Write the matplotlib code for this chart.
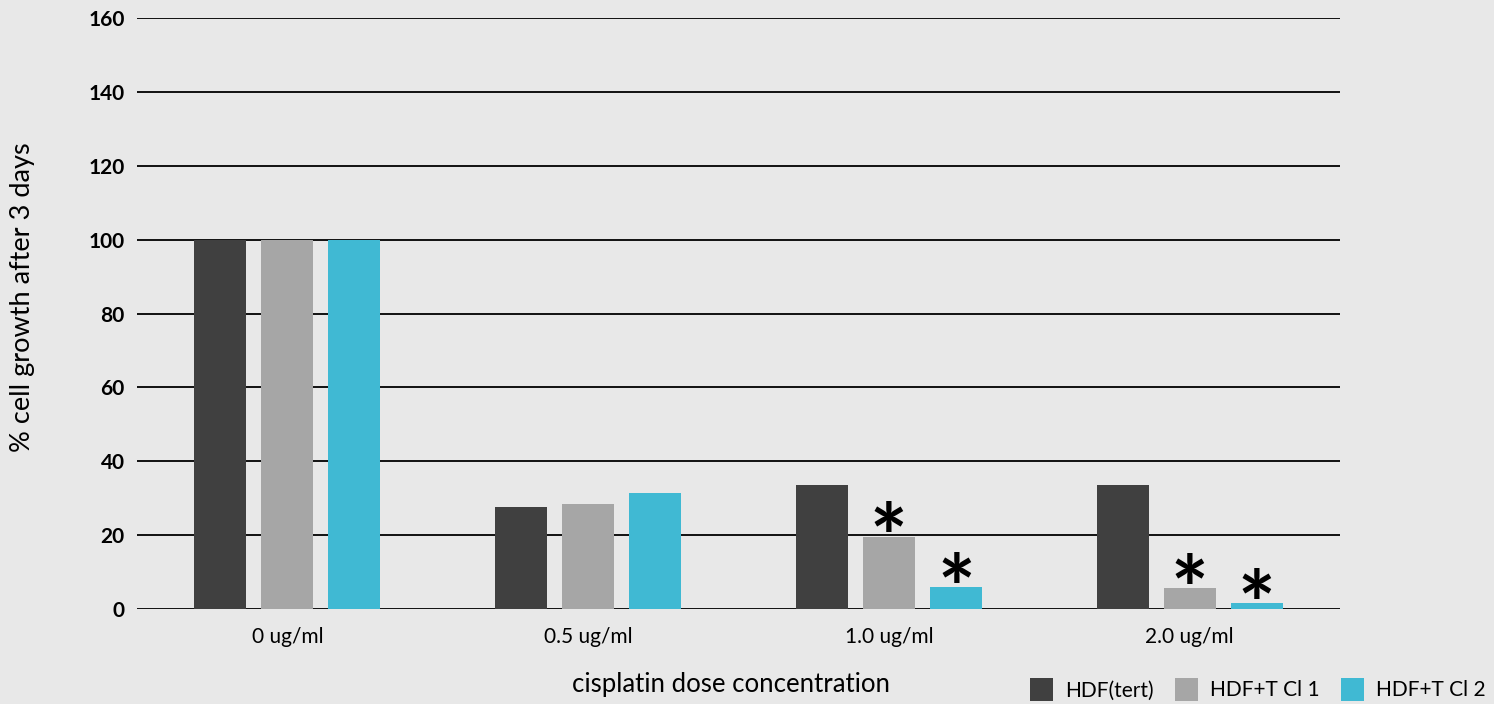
import numpy as np
import matplotlib
matplotlib.use("Agg")
from matplotlib import pyplot as plt

DOSES = ["0 ug/ml", "0.5 ug/ml", "1.0 ug/ml", "2.0 ug/ml"]
SERIES = ["HDF(tert)", "HDF+T Cl 1", "HDF+T Cl 2"]
HDF_TERT = [100, 27.7, 33.7, 33.7]
HDF_T_CL1 = [100, 28.3, 19.6, 5.7]
HDF_T_CL2 = [100, 31.5, 6.0, 1.6]
# significance markers per series (True = asterisk above bar)
SIG_CL1 = [False, False, True, True]
SIG_CL2 = [False, False, True, True]
Y_TICKS = [0, 20, 40, 60, 80, 100, 120, 140, 160]

COLORS = ["#404040", "#a6a6a6", "#40b9d3"]
BG = "#e8e8e8"

plt.rcParams.update({"font.family": ["Lato", "DejaVu Sans"]})

fig = plt.figure(figsize=(14.94, 7.04), dpi=100, facecolor=BG)
ax = fig.add_axes([0.0917, 0.1349, 0.8052, 0.8395], facecolor=BG)

x = np.arange(len(DOSES))
width = 0.173
step = 0.223
values = [HDF_TERT, HDF_T_CL1, HDF_T_CL2]
sigs = [None, SIG_CL1, SIG_CL2]
for i, (name, vals) in enumerate(zip(SERIES, values)):
    pos = x + (i - 1) * step
    ax.bar(pos, vals, width=width, color=COLORS[i], label=name, zorder=3)
    if sigs[i] is not None:
        for p, v, s in zip(pos, vals, sigs[i]):
            if s:
                # top of the asterisk glyph sits ~9 units above the bar
                ax.text(p, v + 9.0, "*", ha="center", va="top",
                        fontsize=64, fontweight="bold", zorder=4)

ax.set_xlim(-0.5, 3.5)
ax.set_ylim(0, 160)
ax.set_yticks(Y_TICKS)
ax.set_yticklabels([str(t) for t in Y_TICKS], fontsize=15, fontweight="bold")
ax.set_xticks(x)
ax.set_xticklabels(DOSES, fontsize=15)
ax.tick_params(axis="both", length=0)
ax.tick_params(axis="y", pad=9)
ax.tick_params(axis="x", pad=13)
ax.grid(True, axis="y", color="black", linewidth=1.3, zorder=0)
for sp in ax.spines.values():
    sp.set_visible(False)

ax.set_ylabel("% cell growth after 3 days", fontsize=19.5)
ax.yaxis.set_label_coords(-0.085, 0.528)
ax.set_xlabel("cisplatin dose concentration", fontsize=18.5)
ax.xaxis.set_label_coords(0.494, -0.106)

fig.legend(loc="lower right", bbox_to_anchor=(1.007, -0.022), ncol=3, frameon=False,
           fontsize=15, handlelength=1.1, handleheight=1.3, columnspacing=1.0,
           handletextpad=0.6)

fig.savefig("out.png", dpi=100, facecolor=BG)
